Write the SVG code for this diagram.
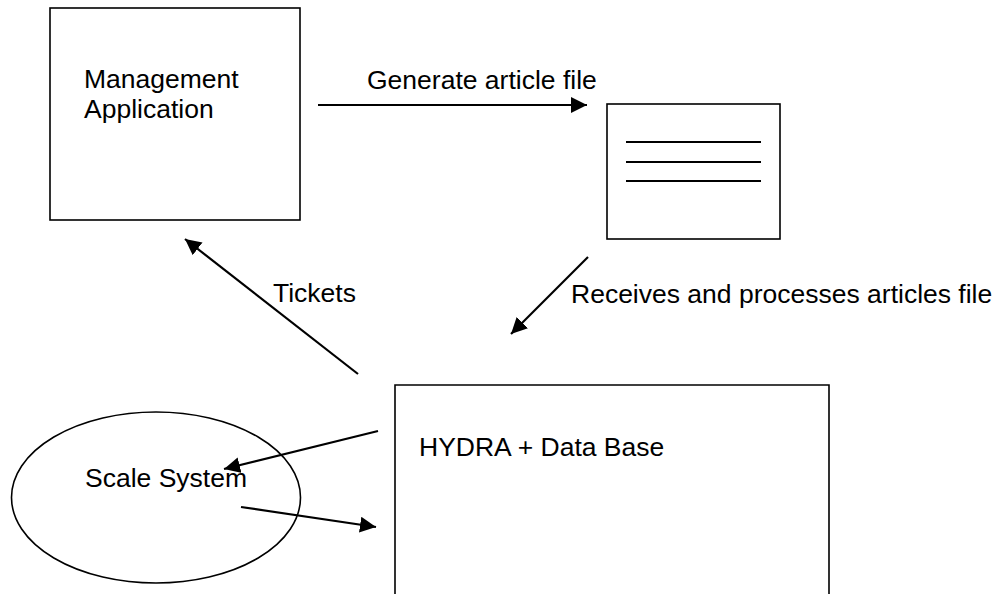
<svg xmlns="http://www.w3.org/2000/svg" width="996" height="594" viewBox="0 0 996 594">
<defs>
<marker id="ah" markerUnits="userSpaceOnUse" markerWidth="18" markerHeight="18" refX="16" refY="8" orient="auto">
<path d="M0,0 L16,8 L0,16 Z" fill="#000"/>
</marker>
<style>
.box{fill:#fff;stroke:#000;stroke-width:1.6}
.line{stroke:#000;stroke-width:2;fill:none}
.conn{stroke:#000;stroke-width:2.2;fill:none;marker-end:url(#ah)}
text{font-family:"Liberation Sans",Arial,sans-serif;font-size:26.5px;fill:#000}
</style>
</defs>
<rect width="996" height="594" fill="#fff"/>
<g id="management">
<rect class="box" x="50" y="8" width="250" height="212"/>
<text x="84" y="88">Management</text>
<text x="84" y="118">Application</text>
</g>
<g id="article-file">
<rect class="box" x="607" y="104" width="173" height="135"/>
<line class="line" x1="626" y1="142" x2="761" y2="142"/>
<line class="line" x1="626" y1="162" x2="761" y2="162"/>
<line class="line" x1="626" y1="181" x2="761" y2="181"/>
</g>
<g id="hydra">
<path class="box" d="M395,600 L395,385 L829,385 L829,600"/>
<text x="419" y="456">HYDRA + Data Base</text>
</g>
<g id="scale">
<ellipse class="box" cx="156" cy="497.5" rx="144.5" ry="85.5" style="fill:none"/>
<text x="85" y="487">Scale System</text>
</g>
<g id="connectors">
<line class="conn" x1="318" y1="105" x2="587" y2="105"/>
<text x="367" y="89">Generate article file</text>
<line class="conn" x1="588" y1="257" x2="511" y2="334"/>
<text x="571" y="303">Receives and processes articles file</text>
<line class="conn" x1="358" y1="374" x2="185" y2="239"/>
<text x="273" y="302">Tickets</text>
<line class="conn" x1="378" y1="431" x2="224" y2="469"/>
<line class="conn" x1="241" y1="507" x2="376" y2="527"/>
</g>
</svg>
